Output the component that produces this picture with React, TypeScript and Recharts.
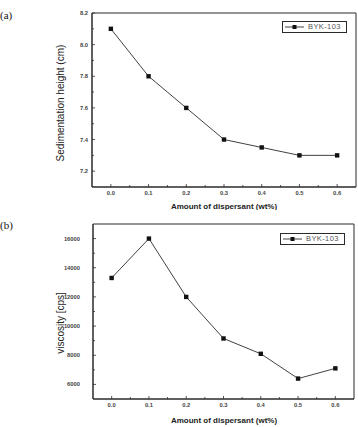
import React from "react";
import { LineChart, Line, XAxis, YAxis, ReferenceArea } from "recharts";

// wt% of dispersant (BYK-103)
const dispersant = [0.0, 0.1, 0.2, 0.3, 0.4, 0.5, 0.6];
const sedimentationHeight = [8.1, 7.8, 7.6, 7.4, 7.35, 7.3, 7.3];
const viscosity = [13300, 16000, 12000, 9150, 8100, 6400, 7100];

const xMajorTicks = [0.0, 0.1, 0.2, 0.3, 0.4, 0.5, 0.6];
const xMinorTicks = [0.05, 0.15, 0.25, 0.35, 0.45, 0.55];
const sedMajorTicks = [7.2, 7.4, 7.6, 7.8, 8.0, 8.2];
const sedMinorTicks = [7.3, 7.5, 7.7, 7.9, 8.1];
const viscMajorTicks = [6000, 8000, 10000, 12000, 14000, 16000];
const viscMinorTicks = [7000, 9000, 11000, 13000, 15000];

const seriesName = "BYK-103";
const xTitle = "Amount of dispersant (wt%)";

const INK = "#2b2b2b";
const SANS = "Liberation Sans, Arial, sans-serif";
const TICK_FONT = { fontFamily: SANS, fontSize: 5.8, fontWeight: 700, fill: "#444" };

const isIn = (list: number[], v: number) => list.some((m) => Math.abs(m - v) < 1e-6);

const makeYTick = (major: number[], gap: number, digits: number) => (props: any) => {
  const { x, y, payload } = props;
  const big = isIn(major, payload.value);
  return (
    <g>
      <line x1={x} x2={x + (big ? 3 : 2)} y1={y} y2={y} stroke={INK} strokeWidth={0.8} />
      {big && (
        <text x={x - gap} y={y} dy="0.35em" textAnchor="end" {...TICK_FONT}>
          {Number(payload.value).toFixed(digits)}
        </text>
      )}
    </g>
  );
};

const XTick = (props: any) => {
  const { x, y, payload } = props;
  const big = isIn(xMajorTicks, payload.value);
  return (
    <g>
      <line x1={x} x2={x} y1={y} y2={y - (big ? 3 : 2)} stroke={INK} strokeWidth={0.8} />
      {big && (
        <text x={x} y={y + 6} dy="0.35em" textAnchor="middle" {...TICK_FONT}>
          {Number(payload.value).toFixed(1)}
        </text>
      )}
    </g>
  );
};

// axis titles are placed in the chart's own pixel space
const XTitle = ({ cx, cy }: { cx: number; cy: number }) => (
  <text x={cx} y={cy} dy="0.35em" textAnchor="middle" fontFamily={SANS} fontSize={8} fontWeight={700} fill="#222">
    {xTitle}
  </text>
);

const YTitle = ({ text, cx, cy }: { text: string; cx: number; cy: number }) => (
  <text
    x={cx}
    y={cy}
    dy="0.35em"
    textAnchor="middle"
    transform={`rotate(-90, ${cx}, ${cy})`}
    fontFamily={SANS}
    fontSize={10}
    fill="#222"
  >
    {text}
  </text>
);

const SquareDot = (props: any) => {
  const { cx, cy } = props;
  return <rect x={cx - 2.2} y={cy - 2.2} width={4.4} height={4.4} fill="#111" />;
};

const LegendBox = ({ left, top }: { left: number; top: number }) => (
  <div
    style={{
      position: "absolute",
      left,
      top,
      width: 63,
      height: 10,
      border: `1px solid ${INK}`,
      background: "#fff",
      display: "flex",
      alignItems: "center",
      fontFamily: SANS,
      fontSize: 7.5,
      color: "#555",
      letterSpacing: 0.4,
    }}
  >
    <svg width={20} height={10} style={{ marginLeft: 2 }}>
      <line x1={0} x2={19} y1={5} y2={5} stroke={INK} strokeWidth={0.9} />
      <rect x={7.5} y={3} width={4} height={4} fill="#111" />
    </svg>
    <span style={{ marginLeft: 3, lineHeight: "10px" }}>{seriesName}</span>
  </div>
);

const panelLabel = (text: string, top: number) => (
  <div
    style={{
      position: "absolute",
      left: 0,
      top,
      fontFamily: "Liberation Serif, Times New Roman, serif",
      fontSize: 11,
      color: "#111",
    }}
  >
    {text}
  </div>
);

const sedData = dispersant.map((x, i) => ({ x, value: sedimentationHeight[i] }));
const viscData = dispersant.map((x, i) => ({ x, value: viscosity[i] }));

export default function App() {
  return (
    <div style={{ position: "absolute", left: 0, top: 0, width: 358, height: 427, background: "#fff", overflow: "hidden" }}>
      {panelLabel("(a)", 9)}
      <div style={{ position: "absolute", left: 0, top: 0 }}>
        <LineChart width={358} height={210} data={sedData} margin={{ top: 13, right: 2, left: 0, bottom: 0 }}>
          <XAxis
            type="number"
            dataKey="x"
            domain={[-0.05, 0.65]}
            ticks={[...xMajorTicks, ...xMinorTicks]}
            tick={XTick}
            tickLine={false}
            tickSize={0}
            tickMargin={0}
            axisLine={{ stroke: INK }}
            height={23}
            interval={0}
            allowDataOverflow
          />
          <YAxis
            type="number"
            domain={[7.1, 8.2]}
            ticks={[...sedMajorTicks, ...sedMinorTicks]}
            tick={makeYTick(sedMajorTicks, 4, 1)}
            tickLine={false}
            tickSize={0}
            tickMargin={0}
            axisLine={{ stroke: INK }}
            width={92}
            interval={0}
            allowDataOverflow
          />
          <ReferenceArea x1={-0.05} x2={0.65} y1={7.1} y2={8.2} fill="none" stroke={INK} strokeWidth={1} />
          <Line
            type="linear"
            dataKey="value"
            stroke={INK}
            strokeWidth={0.9}
            dot={<SquareDot />}
            activeDot={false}
            isAnimationActive={false}
          />
          <XTitle cx={224} cy={206} />
          <YTitle text="Sedimentation height (cm)" cx={60} cy={103} />
        </LineChart>
      </div>
      <LegendBox left={282} top={21} />

      {panelLabel("(b)", 219)}
      <div style={{ position: "absolute", left: 0, top: 210 }}>
        <LineChart width={358} height={217} data={viscData} margin={{ top: 14, right: 4, left: 1, bottom: 0 }}>
          <XAxis
            type="number"
            dataKey="x"
            domain={[-0.05, 0.65]}
            ticks={[...xMajorTicks, ...xMinorTicks]}
            tick={XTick}
            tickLine={false}
            tickSize={0}
            tickMargin={0}
            axisLine={{ stroke: INK }}
            height={28}
            interval={0}
            allowDataOverflow
          />
          <YAxis
            type="number"
            domain={[5000, 17000]}
            ticks={[...viscMajorTicks, ...viscMinorTicks]}
            tick={makeYTick(viscMajorTicks, 13, 0)}
            tickLine={false}
            tickSize={0}
            tickMargin={0}
            axisLine={{ stroke: INK }}
            width={92}
            interval={0}
            allowDataOverflow
          />
          <ReferenceArea x1={-0.05} x2={0.65} y1={5000} y2={17000} fill="none" stroke={INK} strokeWidth={1} />
          <Line
            type="linear"
            dataKey="value"
            stroke={INK}
            strokeWidth={0.9}
            dot={<SquareDot />}
            activeDot={false}
            isAnimationActive={false}
          />
          <XTitle cx={224} cy={210} />
          <YTitle text="viscosity [cps]" cx={60} cy={113} />
        </LineChart>
      </div>
      <LegendBox left={280} top={233} />
    </div>
  );
}
